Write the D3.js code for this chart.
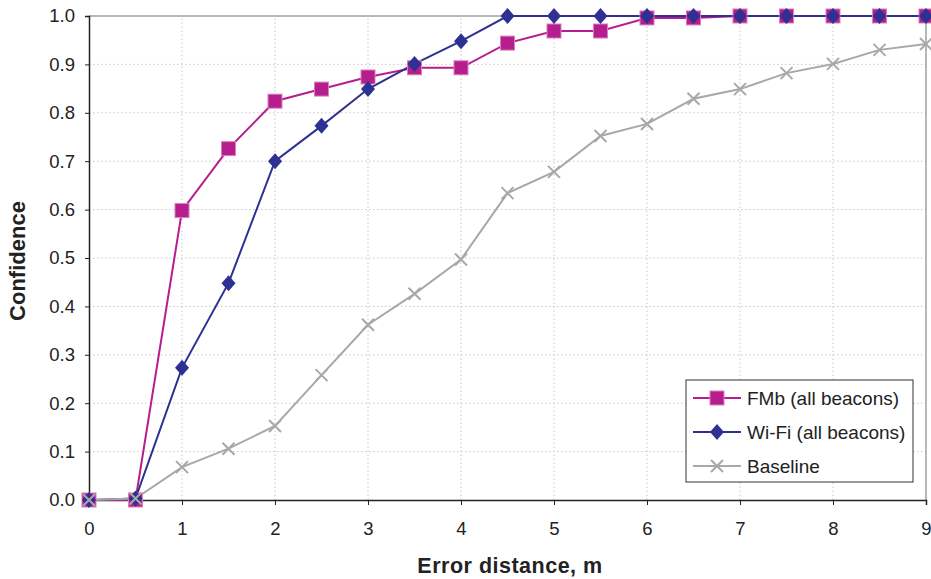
<!DOCTYPE html>
<html>
<head>
<meta charset="utf-8">
<script src="https://cdn.jsdelivr.net/npm/d3@7"></script>
<style>
  body { margin: 0; background: #fff; }
  svg { font-family: "Liberation Sans", Arial, sans-serif; }
</style>
</head>
<body>
<svg id="chart" width="931" height="579"></svg>
<script>
//  data
const x_vals = [0, 0.5, 1, 1.5, 2, 2.5, 3, 3.5, 4, 4.5, 5, 5.5, 6, 6.5, 7, 7.5, 8, 8.5, 9];
const fmb = [0, 0, 0.598, 0.726, 0.824, 0.849, 0.874, 0.893, 0.893, 0.944, 0.969, 0.969, 0.996, 0.996, 1, 1, 1, 1, 1];
const wifi = [0, 0.003, 0.273, 0.448, 0.700, 0.773, 0.849, 0.901, 0.948, 1, 1, 1, 1, 1, 1, 1, 1, 1, 1];
const baseline = [0, 0.003, 0.068, 0.106, 0.153, 0.258, 0.362, 0.426, 0.497, 0.634, 0.678, 0.752, 0.777, 0.829, 0.849, 0.882, 0.901, 0.930, 0.942];
const x_ticks = [0, 1, 2, 3, 4, 5, 6, 7, 8, 9];
const y_ticks = [0, 0.1, 0.2, 0.3, 0.4, 0.5, 0.6, 0.7, 0.8, 0.9, 1.0];
const series_names = ["FMb (all beacons)", "Wi-Fi (all beacons)", "Baseline"];

//  draw
function draw_chart() {
  const margin = ({top: 16, right: 5, bottom: 79, left: 89});
  const w = 931, h = 579;
  const svg = d3.select("#chart");

  const x = d3.scaleLinear().domain([0, 9]).range([margin.left, w - margin.right]);
  const y = d3.scaleLinear().domain([0, 1]).range([h - margin.bottom, margin.top]);

  // grid
  svg.append("g")
    .selectAll("line")
    .data(y_ticks.slice(1, -1))
    .join("line")
      .attr("x1", x(0)).attr("x2", x(9))
      .attr("y1", d => y(d)).attr("y2", d => y(d))
      .attr("stroke", "#c8c8c8")
      .attr("stroke-dasharray", "1.5,2.5");

  svg.append("g")
    .selectAll("line")
    .data(x_ticks.slice(1, -1))
    .join("line")
      .attr("x1", d => x(d)).attr("x2", d => x(d))
      .attr("y1", y(0)).attr("y2", y(1))
      .attr("stroke", "#c8c8c8")
      .attr("stroke-dasharray", "1.5,2.5");

  // top and right border
  svg.append("path")
    .attr("d", `M${x(0)},${y(1)}H${x(9)}V${y(0)}`)
    .attr("fill", "none")
    .attr("stroke", "#a0a0a0")
    .attr("stroke-width", 1.5);

  const xAxis = g => g
    .attr("transform", `translate(0,${y(0)})`)
    .call(d3.axisBottom(x).tickValues(x_ticks).tickFormat(d3.format("d")).tickSize(5).tickPadding(17))
    .call(g => g.select(".domain").attr("stroke", "#222").attr("stroke-width", 1.5));

  const yAxis = g => g
    .attr("transform", `translate(${x(0)},0)`)
    .call(d3.axisLeft(y).tickValues(y_ticks).tickFormat(d3.format(".1f")).tickSize(4).tickPadding(10))
    .call(g => g.select(".domain").attr("stroke", "#222").attr("stroke-width", 1.5));

  svg.append("g").call(xAxis)
    .selectAll("text").attr("font-size", 18.5).attr("fill", "#222").attr("font-family", "Liberation Sans, Arial, sans-serif");
  svg.append("g").call(yAxis)
    .selectAll("text").attr("font-size", 18.5).attr("fill", "#222").attr("font-family", "Liberation Sans, Arial, sans-serif");
  svg.selectAll(".tick line").attr("stroke", "#222");

  const series = [
    {name: series_names[0], values: fmb, color: "#b71e8d", marker: "square"},
    {name: series_names[1], values: wifi, color: "#2e3192", marker: "diamond"},
    {name: series_names[2], values: baseline, color: "#a8a8a8", marker: "x"}
  ];

  const line = d3.line().x((d, i) => x(x_vals[i])).y(d => y(d));

  function draw_marker(g, type, color) {
    if (type == "square")
      g.append("rect").attr("x", -7).attr("y", -7).attr("width", 14).attr("height", 14)
        .attr("fill", color).attr("stroke", "#d77fbf").attr("stroke-width", 1);
    else if (type == "diamond")
      g.append("path").attr("d", "M0,-8L7,0L0,8L-7,0Z").attr("fill", color);
    else
      g.append("path").attr("d", "M-6,-6L6,6M-6,6L6,-6").attr("stroke", color).attr("stroke-width", 2).attr("fill", "none");
  }

  series.forEach(s => {
    svg.append("path")
      .datum(s.values)
      .attr("fill", "none")
      .attr("stroke", s.color)
      .attr("stroke-width", 2)
      .attr("d", line);
  });

  series.forEach(s => {
    s.values.forEach((v, i) => {
      const g = svg.append("g").attr("transform", `translate(${x(x_vals[i])},${y(v)})`);
      draw_marker(g, s.marker, s.color);
    });
  });

  // legend
  const lg = svg.append("g").attr("transform", "translate(686,380)");
  lg.append("rect").attr("width", 227).attr("height", 102)
    .attr("fill", "#fff").attr("stroke", "#333").attr("stroke-width", 1);
  series.forEach((s, i) => {
    const yy = 18 + i * 34;
    lg.append("line").attr("x1", 7).attr("x2", 55).attr("y1", yy).attr("y2", yy)
      .attr("stroke", s.color).attr("stroke-width", 2);
    const g = lg.append("g").attr("transform", `translate(31,${yy})`);
    draw_marker(g, s.marker, s.color);
    lg.append("text").attr("x", 61).attr("y", yy + 7)
      .attr("font-size", 19).attr("fill", "#222").text(s.name);
  });

  // titles
  svg.append("text")
    .attr("x", 510).attr("y", 573)
    .attr("text-anchor", "middle")
    .attr("font-size", 21.5).attr("font-weight", "bold").attr("fill", "#222")
    .attr("letter-spacing", 0.5)
    .text("Error distance, m");

  svg.append("text")
    .attr("transform", `translate(25,261) rotate(-90)`)
    .attr("text-anchor", "middle")
    .attr("font-size", 22).attr("font-weight", "bold").attr("fill", "#222")
    .text("Confidence");
}

draw_chart();
</script>
</body>
</html>
